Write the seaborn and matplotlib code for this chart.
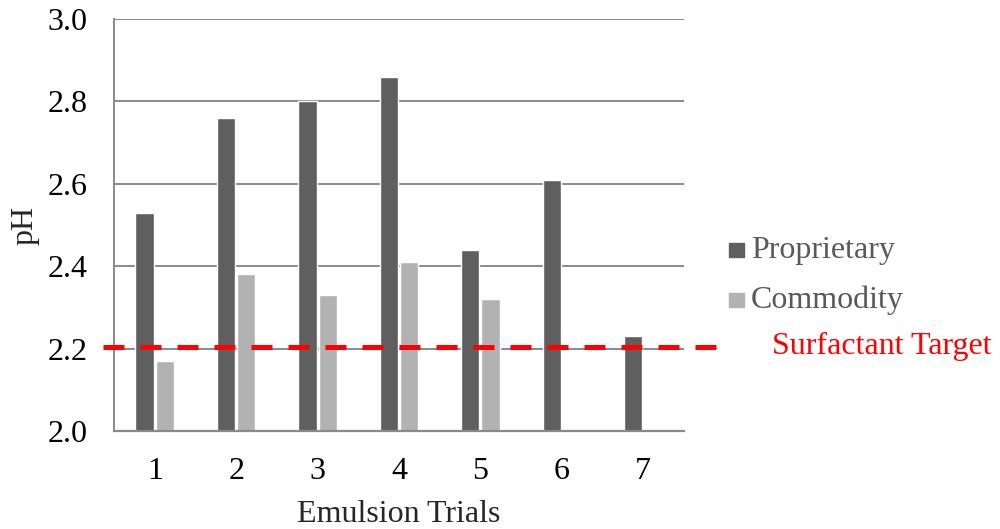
import matplotlib
matplotlib.use("Agg")
import matplotlib.pyplot as plt
import seaborn as sns
import pandas as pd
import numpy as np
from matplotlib.patches import Rectangle

trials = ["1", "2", "3", "4", "5", "6", "7"]
proprietary = [2.53, 2.76, 2.80, 2.86, 2.44, 2.61, 2.23]
commodity = [2.17, 2.38, 2.33, 2.41, 2.32, np.nan, np.nan]
surfactant_target = 2.205
series_names = ["Proprietary", "Commodity"]
series_colors = ["#5f5f5f", "#b2b2b2"]

df = pd.DataFrame({
    "trial": trials * 2,
    "pH": proprietary + commodity,
    "series": [series_names[0]] * len(trials) + [series_names[1]] * len(trials),
})

sns.set_style("white")
plt.rcParams["font.family"] = ["Liberation Serif", "DejaVu Serif"]

FS = 23

fig = plt.figure(figsize=(10, 5.29), dpi=100)
ax = fig.add_axes([0.114, 0.1853, 0.570, 0.7788])

sns.barplot(data=df, x="trial", y="pH", hue="series", order=trials,
            hue_order=series_names, palette=series_colors, width=0.5, gap=0.1,
            ax=ax, legend=False, saturation=1)

# bars start at the bottom of the axis, not at zero
for p in ax.patches:
    h = p.get_height()
    if np.isfinite(h):
        p.set_y(2.0)
        p.set_height(h - 2.0)

ax.set_ylim(2.0, 3.0)
ax.set_xlim(-0.5, 6.5)
ax.set_yticks(np.arange(2.0, 3.01, 0.2))
ax.set_yticklabels([f"{v:.1f}" for v in np.arange(2.0, 3.01, 0.2)])
ax.yaxis.grid(True, color="#8a8a8a", linewidth=1.4)
ax.set_axisbelow(True)
ax.tick_params(axis="both", length=0, labelsize=FS, colors="black")
ax.tick_params(axis="x", pad=19)
ax.tick_params(axis="y", pad=19)

for side in ["top", "right"]:
    ax.spines[side].set_visible(False)
ax.spines["left"].set_color("#8a8a8a")
ax.spines["left"].set_linewidth(1.4)
ax.spines["bottom"].set_color("#8a8a8a")
ax.spines["bottom"].set_linewidth(1.6)

ax.set_xlabel("Emulsion Trials", fontsize=FS, labelpad=10)
ax.set_ylabel("pH", fontsize=FS, labelpad=6)

# target line, running out past the plot area toward its label
ax.axhline(surfactant_target, xmin=(103 - 114) / 570, xmax=(722 - 114) / 570,
           color="#ff0000", linewidth=3.6, linestyle=(0, (4.2, 3.2)),
           clip_on=False, zorder=5)

# legend entries
for i, (name, col) in enumerate(zip(series_names, series_colors)):
    yc = 1 - (250 + 50 * i) / 529
    fig.patches.append(Rectangle((0.729, yc - 0.014), 0.015, 0.028, color=col,
                                 transform=fig.transFigure, figure=fig))
    fig.text(0.751, yc, name, fontsize=FS, color="#595959", va="center", ha="left")
fig.text(0.772, 1 - 346 / 529, "Surfactant Target", fontsize=FS, color="#ff0000",
         va="center", ha="left")

fig.savefig("out.png", dpi=100)
